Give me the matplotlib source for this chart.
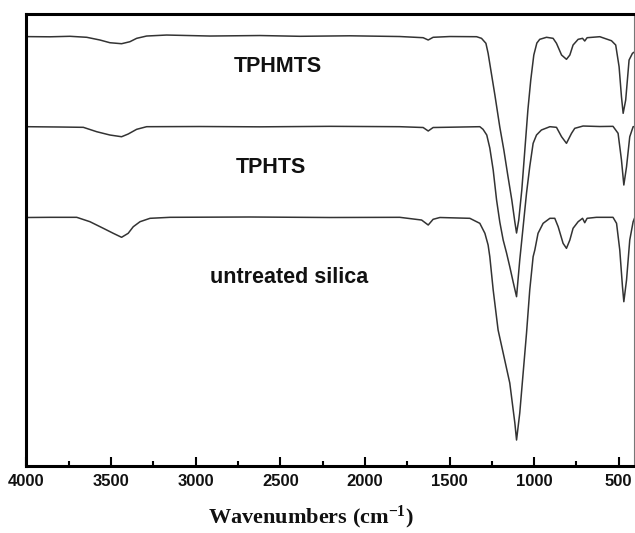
import matplotlib
matplotlib.use("Agg")
import matplotlib.pyplot as plt
from matplotlib.ticker import MultipleLocator

plt.rcParams['mathtext.fontset'] = 'custom'
plt.rcParams['mathtext.rm'] = 'Liberation Serif:bold'
plt.rcParams['mathtext.it'] = 'Liberation Serif:bold'
plt.rcParams['mathtext.bf'] = 'Liberation Serif:bold'

# ---- data (wavenumber in cm-1, transmittance in arbitrary units) ----
tphmts_wn = [4000, 3861, 3743, 3644, 3566, 3507, 3438, 3389, 3349, 3290, 3172, 2916, 2621, 2384,
             2089, 1794, 1656, 1626, 1597, 1498, 1340, 1311, 1285, 1272, 1256, 1232, 1203, 1179,
             1156, 1132, 1114, 1104, 1091, 1073, 1055, 1037, 1020, 1002, 984, 967, 927, 888, 868,
             838, 809, 789, 770, 740, 714, 701, 687, 612, 543, 518, 498, 484, 474, 459, 439, 419, 405]
tphmts_t = [95.0, 94.96, 95.07, 94.85, 94.25, 93.65, 93.43, 93.87, 94.62, 95.13, 95.35, 95.13, 95.24,
            95.07, 95.18, 95.02, 94.76, 94.25, 94.85, 95.02, 94.98, 94.62, 93.52, 91.31, 87.61, 82.08,
            75.0, 69.91, 64.38, 58.85, 53.98, 51.55, 54.42, 61.06, 69.91, 78.76, 85.40, 90.93, 93.58,
            94.40, 94.85, 94.62, 93.52, 90.93, 89.98, 90.93, 93.14, 94.40, 94.62, 94.03, 94.76, 94.98,
            94.09, 93.14, 88.34, 81.70, 78.03, 80.97, 89.82, 91.31, 91.66]

tphts_wn = [4000, 3802, 3664, 3585, 3507, 3438, 3399, 3349, 3290, 2975, 2621, 2207, 1794, 1656, 1626,
            1597, 1321, 1302, 1280, 1262, 1242, 1222, 1203, 1183, 1163, 1144, 1124, 1104, 1085, 1065,
            1045, 1026, 1006, 986, 957, 907, 868, 838, 809, 779, 760, 711, 612, 534, 504, 484, 470,
            454, 435, 415, 405]
tphts_t = [75.07, 75.0, 74.93, 73.96, 73.23, 72.85, 73.45, 74.49, 75.07, 75.11, 75.04, 75.15, 75.07,
           74.89, 74.12, 74.89, 75.07, 74.49, 73.23, 70.35, 65.49, 58.85, 53.98, 50.0, 47.12, 44.09,
           40.71, 37.46, 45.58, 52.94, 60.40, 66.22, 71.39, 73.23, 74.34, 75.07, 74.93, 72.85, 71.39,
           73.61, 74.71, 75.22, 75.11, 75.15, 73.61, 67.70, 62.17, 66.22, 72.85, 75.07, 75.1]

silica_wn = [4000, 3861, 3703, 3625, 3546, 3487, 3438, 3399, 3369, 3329, 3270, 3152, 2680, 2207, 1794,
             1665, 1626, 1597, 1557, 1380, 1321, 1291, 1272, 1262, 1242, 1213, 1183, 1144, 1114, 1104,
             1085, 1065, 1045, 1026, 1006, 996, 977, 947, 907, 878, 858, 829, 809, 789, 770, 740, 714,
             701, 687, 632, 534, 513, 494, 478, 470, 454, 435, 415, 405]
silica_t = [54.98, 55.02, 55.02, 54.05, 52.59, 51.48, 50.60, 51.48, 52.94, 54.05, 54.80, 55.02, 55.09,
            54.98, 55.02, 54.42, 53.32, 54.58, 54.98, 54.80, 53.69, 51.48, 48.89, 46.31, 38.94, 30.09,
            25.0, 18.36, 9.51, 5.75, 11.73, 20.58, 29.42, 38.94, 46.31, 47.79, 51.48, 53.69, 54.80,
            54.80, 52.94, 49.27, 48.16, 50.0, 52.59, 54.05, 54.80, 53.83, 54.80, 55.02, 55.02, 53.69,
            47.79, 39.67, 36.35, 41.15, 50.0, 54.05, 55.0]

labels = ["TPHMTS", "TPHTS", "untreated silica"]
label_wn = [2517, 2553, 2449]
label_t = [88.3, 66.15, 41.8]

x_ticks = [4000, 3500, 3000, 2500, 2000, 1500, 1000, 500]

# ---- figure ----
fig = plt.figure(figsize=(6.35, 5.33), dpi=100)
ax = fig.add_axes([0.0417, 0.1257, 0.9567, 0.848])

line_color = '#333333'
for wn, t in [(tphmts_wn, tphmts_t), (tphts_wn, tphts_t), (silica_wn, silica_t)]:
    ax.plot(wn, t, color=line_color, lw=1.1, solid_joinstyle='round')

for lab, xw, yt in zip(labels, label_wn, label_t):
    ax.text(xw, yt, lab, ha='center', va='center', fontsize=15.5, fontweight='bold',
            family='Liberation Sans', color='#111111')

ax.set_xlim(4000, 410)
ax.set_ylim(0, 100)
ax.set_yticks([])
ax.set_xticks(x_ticks)
ax.set_xticklabels([str(v) for v in x_ticks])
ax.xaxis.set_minor_locator(MultipleLocator(250))
ax.tick_params(axis='x', which='major', direction='in', length=6.3, width=1.5, pad=6,
               labelsize=12, top=False)
ax.tick_params(axis='x', which='minor', direction='in', length=3.4, width=1.5, top=False)
for lbl in ax.get_xticklabels():
    lbl.set_fontweight('bold')
    lbl.set_family('Liberation Sans')
    lbl.set_color('#111111')

for s in ['left', 'top', 'bottom']:
    ax.spines[s].set_linewidth(2.2)
    ax.spines[s].set_color('black')
ax.spines['right'].set_linewidth(0.8)
ax.spines['right'].set_color('#777777')

fig.text(0.49, 0.0295, r"Wavenumbers (cm$^{-1}$)", ha='center', va='center',
         fontsize=16, fontweight='bold', family='Liberation Serif', color='#111111')

fig.savefig("out.png", dpi=100)
